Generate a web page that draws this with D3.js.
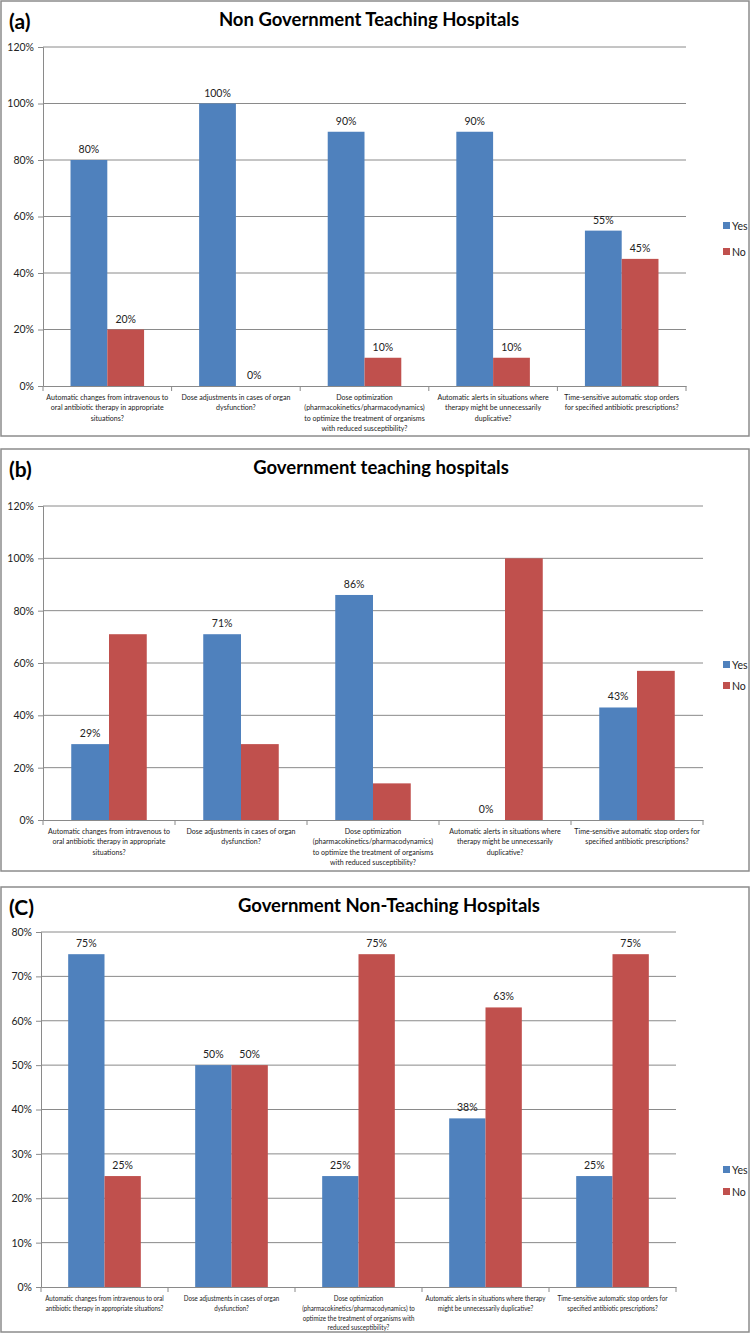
<!DOCTYPE html>
<html><head><meta charset="utf-8">
<script src="https://cdn.jsdelivr.net/npm/d3@7"></script>
<style>
body{margin:0;background:#fff;}
svg{display:block;font-family:Lato, "Open Sans", sans-serif;}
</style></head>
<body><svg id="c" width="751" height="1333"></svg>
<script>
const series = ["Yes", "No"];
const categories = ["IV to oral", "Dose adjustments", "Dose optimization", "Automatic alerts", "Stop orders"];

const titleA = "Non Government Teaching Hospitals";
const yesA = [80, 100, 90, 90, 55];
const noA  = [20, 0, 10, 10, 45];
const ticksA = [0, 20, 40, 60, 80, 100, 120];
const labelsA = [
  ["Automatic changes from intravenous to", "oral antibiotic therapy in appropriate", "situations?"],
  ["Dose adjustments in cases of organ", "dysfunction?"],
  ["Dose optimization", "(pharmacokinetics/pharmacodynamics)", "to optimize the treatment of organisms", "with reduced susceptibility?"],
  ["Automatic alerts in situations where", "therapy might be unnecessarily", "duplicative?"],
  ["Time-sensitive automatic stop orders", "for specified antibiotic prescriptions?"]
];

const titleB = "Government teaching hospitals";
const yesB = [29, 71, 86, 0, 43];
const noB  = [71, 29, 14, 100, 57];
const ticksB = [0, 20, 40, 60, 80, 100, 120];
const labelsB = [
  ["Automatic changes from intravenous to", "oral antibiotic therapy in appropriate", "situations?"],
  ["Dose adjustments in cases of organ", "dysfunction?"],
  ["Dose optimization", "(pharmacokinetics/pharmacodynamics)", "to optimize the treatment of organisms", "with reduced susceptibility?"],
  ["Automatic alerts in situations where", "therapy might be unnecessarily", "duplicative?"],
  ["Time-sensitive automatic stop orders for", "specified antibiotic prescriptions?"]
];

const titleC = "Government Non-Teaching Hospitals";
const yesC = [75, 50, 25, 38, 25];
const noC  = [25, 50, 75, 63, 75];
const ticksC = [0, 10, 20, 30, 40, 50, 60, 70, 80];
const labelsC = [
  ["Automatic changes from intravenous to oral", "antibiotic therapy in appropriate situations?"],
  ["Dose adjustments in cases of organ", "dysfunction?"],
  ["Dose optimization", "(pharmacokinetics/pharmacodynamics) to", "optimize the treatment of organisms with", "reduced susceptibility?"],
  ["Automatic alerts in situations where therapy", "might be unnecessarily duplicative?"],
  ["Time-sensitive automatic stop orders for", "specified antibiotic prescriptions?"]
];

const colors = {Yes: "#4F81BD", No: "#C0504D"};
const svg = d3.select("#c");

function panel(cfg){
  const g = svg.append("g");
  g.append("rect").attr("x", 1).attr("y", cfg.top + 1).attr("width", 748).attr("height", cfg.bottom - cfg.top - 2)
    .attr("fill", "#fff").attr("stroke", "#8c8c8c").attr("stroke-width", 1.5);
  g.append("text").attr("x", 9).attr("y", cfg.top + 29).attr("font-size", 21).attr("font-weight", "bold")
    .attr("fill", "#000").text(cfg.tag);
  g.append("text").attr("x", cfg.titleX).attr("y", cfg.top + 26).attr("text-anchor", "middle")
    .attr("font-size", 18.5).attr("font-weight", "bold").attr("fill", "#000").text(cfg.title);

  const x = d3.scaleBand().domain(categories).range([cfg.x0, cfg.x1]).paddingInner(0).paddingOuter(0);
  const bw = x.bandwidth() * 0.286;
  const xs = d3.scaleBand().domain(series).range([x.bandwidth()/2 - bw, x.bandwidth()/2 + bw]);
  const y = d3.scaleLinear().domain([0, cfg.ymax]).range([cfg.y0, cfg.y1]);

  g.append("g").selectAll("line").data(cfg.ticks.filter(t => t > 0)).join("line")
    .attr("x1", cfg.x0).attr("x2", cfg.x1).attr("y1", d => y(d)).attr("y2", d => y(d))
    .attr("stroke", "#8a8a8a").attr("stroke-width", 1);

  const ya = g.append("g").attr("transform", `translate(${cfg.x0},0)`)
    .call(d3.axisLeft(y).tickValues(cfg.ticks).tickSize(5).tickPadding(4).tickFormat(d => d + "%"));
  ya.select(".domain").attr("stroke", "#8a8a8a");
  ya.selectAll(".tick line").attr("stroke", "#8a8a8a");
  ya.selectAll("text").attr("font-size", 10.5).attr("fill", "#222").attr("font-family", "Lato, sans-serif");

  const xa = g.append("g").attr("transform", `translate(0,${cfg.y0})`)
    .call(d3.axisBottom(x).tickSize(0).tickFormat(""));
  xa.select(".domain").attr("stroke", "#8a8a8a");
  const bounds = categories.map(c => x(c)).concat([cfg.x1]);
  g.append("g").selectAll("line").data(bounds).join("line")
    .attr("x1", d => d).attr("x2", d => d).attr("y1", cfg.y0).attr("y2", cfg.y0 + 5)
    .attr("stroke", "#8a8a8a");

  categories.forEach((c, i) => {
    const cx = x(c) + x.bandwidth()/2;
    const t = g.append("text").attr("text-anchor", "middle").attr("font-size", cfg.labSize).attr("fill", "#222")
      .attr("transform", `translate(${cx},${cfg.y0 + 14}) scale(${cfg.labScale},1)`);
    cfg.labels[i].forEach((ln, j) => {
      t.append("tspan").attr("x", 0).attr("y", j * cfg.labLine).text(ln);
    });
  });

  const rows = categories.map((c, i) => ({c, Yes: cfg.yes[i], No: cfg.no[i]}));
  const grp = g.append("g").selectAll("g").data(rows).join("g")
    .attr("transform", d => `translate(${x(d.c)},0)`);
  grp.selectAll("rect").data(d => series.map(s => ({s, v: d[s]}))).join("rect")
    .attr("x", d => xs(d.s)).attr("width", xs.bandwidth())
    .attr("y", d => y(d.v)).attr("height", d => cfg.y0 - y(d.v))
    .attr("fill", d => colors[d.s]);
  grp.selectAll("text.v").data(d => series.filter(s => cfg.labelSeries.includes(s)).map(s => ({s, v: d[s]}))).join("text")
    .attr("class", "v").attr("x", d => xs(d.s) + xs.bandwidth()/2).attr("y", d => y(d.v) - 7)
    .attr("text-anchor", "middle").attr("font-size", 10.5).attr("fill", "#222").text(d => d.v + "%");

  series.forEach((s, i) => {
    const ly = cfg.legY + i * cfg.legGap;
    g.append("rect").attr("x", 723).attr("y", ly - 4).attr("width", 7).attr("height", 7).attr("fill", colors[s]);
    g.append("text").attr("x", 732).attr("y", ly + 4).attr("font-size", 10.5).attr("fill", "#222").text(s);
  });
}

panel({top: 0, bottom: 437, tag: "(a)", title: titleA, titleX: 369, x0: 43, x1: 686, y0: 386, y1: 47, ymax: 120,
  ticks: ticksA, yes: yesA, no: noA, labels: labelsA, labelSeries: ["Yes", "No"], legY: 226, legGap: 26,
  labSize: 7.6, labScale: 0.93, labLine: 10.3});
panel({top: 448, bottom: 872, tag: "(b)", title: titleB, titleX: 381, x0: 43, x1: 703, y0: 820, y1: 506, ymax: 120,
  ticks: ticksB, yes: yesB, no: noB, labels: labelsB, labelSeries: ["Yes"], legY: 665, legGap: 21,
  labSize: 7.6, labScale: 0.93, labLine: 10.3});
panel({top: 886, bottom: 1333, tag: "(C)", title: titleC, titleX: 389, x0: 41, x1: 676, y0: 1287, y1: 932, ymax: 80,
  ticks: ticksC, yes: yesC, no: noC, labels: labelsC, labelSeries: ["Yes", "No"], legY: 1170, legGap: 22,
  labSize: 7.2, labScale: 0.86, labLine: 9.8});
</script></body></html>
